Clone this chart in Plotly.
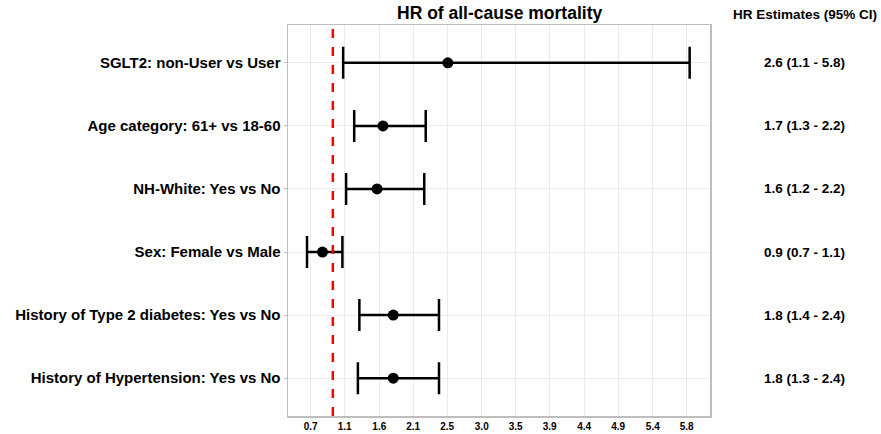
import plotly.graph_objects as go

categories = [
    "SGLT2: non-User vs User",
    "Age category: 61+ vs 18-60",
    "NH-White: Yes vs No",
    "Sex: Female vs Male",
    "History of Type 2 diabetes: Yes vs No",
    "History of Hypertension: Yes vs No",
]
hr = [2.56, 1.68, 1.60, 0.86, 1.82, 1.82]
lower = [1.14, 1.29, 1.18, 0.65, 1.36, 1.34]
upper = [5.84, 2.26, 2.24, 1.13, 2.44, 2.44]
labels = [
    "2.6 (1.1 - 5.8)",
    "1.7 (1.3 - 2.2)",
    "1.6 (1.2 - 2.2)",
    "0.9 (0.7 - 1.1)",
    "1.8 (1.4 - 2.4)",
    "1.8 (1.3 - 2.4)",
]
tick_vals = [0.7, 1.16, 1.63, 2.09, 2.55, 3.02, 3.48, 3.94, 4.41, 4.87, 5.34, 5.8]
tick_text = ["0.7", "1.1", "1.6", "2.1", "2.5", "3.0", "3.5", "3.9", "4.4", "4.9", "5.4", "5.8"]
ref_value = 1.0

FONT = "Liberation Sans, Arial, sans-serif"

fig = go.Figure()
fig.add_trace(go.Scatter(
    x=hr, y=categories, mode="markers",
    marker=dict(color="black", size=11),
    error_x=dict(
        type="data", symmetric=False,
        array=[u - h for u, h in zip(upper, hr)],
        arrayminus=[h - l for h, l in zip(hr, lower)],
        color="black", thickness=2.5, width=16,
    ),
    showlegend=False, hoverinfo="skip",
))

fig.add_shape(type="line", x0=ref_value, x1=ref_value, xref="x",
              y0=0, y1=1, yref="paper",
              line=dict(color="#FF0000", width=2.5, dash="dash"))

for c, t in zip(categories, labels):
    fig.add_annotation(x=1.225, xref="paper", y=c, yref="y", text="<b>%s</b>" % t,
                       showarrow=False, xanchor="center",
                       font=dict(family=FONT, size=13.5, color="black"))

fig.add_annotation(x=1.225, xref="paper", y=1.0, yref="paper", yshift=11,
                   text="<b>HR Estimates (95% CI)</b>", showarrow=False,
                   xanchor="center", yanchor="middle",
                   font=dict(family=FONT, size=13.5, color="black"))
fig.add_annotation(x=0.5, xref="paper", y=1.0, yref="paper", yshift=12,
                   text="<b>HR of all-cause mortality</b>", showarrow=False,
                   xanchor="center", yanchor="middle",
                   font=dict(family=FONT, size=17.5, color="black"))

fig.update_layout(
    template="none",
    width=881, height=434,
    margin=dict(l=288, r=171, t=25, b=18, autoexpand=False),
    paper_bgcolor="white", plot_bgcolor="white",
    font=dict(family=FONT, color="black"),
    hovermode=False,
    xaxis=dict(
        automargin=False,
        range=[0.392, 6.116], tickvals=tick_vals,
        ticktext=["<b>%s</b>" % s for s in tick_text],
        tickfont=dict(size=10, color="black"),
        showgrid=True, gridcolor="#EBEBEB", gridwidth=1,
        zeroline=False, showline=True, mirror=True,
        linecolor="#BDBDBD", linewidth=1.5,
        ticks="",
    ),
    yaxis=dict(
        automargin=False,
        type="category", categoryorder="array", categoryarray=categories,
        range=[5.6, -0.6],
        tickvals=categories,
        ticktext=["<b>%s</b>" % s for s in categories],
        tickfont=dict(size=15, color="black"),
        showgrid=True, gridcolor="#EBEBEB", gridwidth=1,
        zeroline=False, showline=True, mirror=True,
        linecolor="#BDBDBD", linewidth=1.5,
        ticks="outside", ticklen=3, tickcolor="#BDBDBD",
    ),
)

fig.write_html(
    "out.html",
    config={"displayModeBar": False, "staticPlot": True},
    post_script="document.body.style.margin='0';document.body.style.overflow='hidden';",
)
